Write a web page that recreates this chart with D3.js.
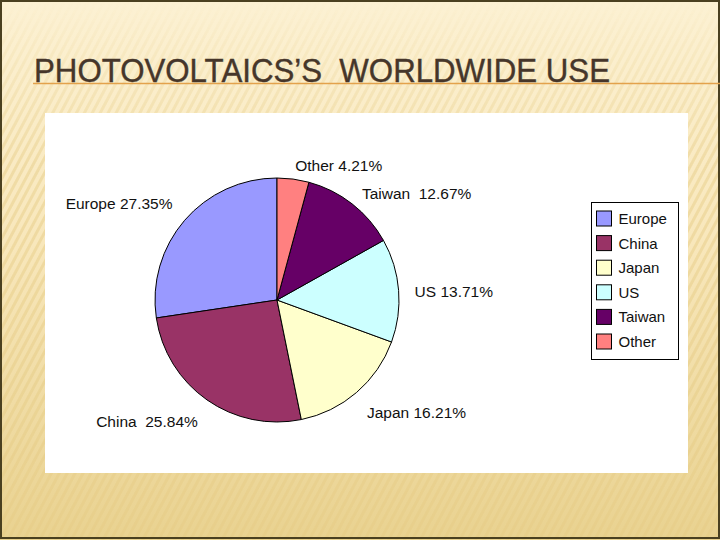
<!DOCTYPE html>
<html>
<head>
<meta charset="utf-8">
<script src="https://cdn.jsdelivr.net/npm/d3@7"></script>
<style>
  html, body { margin: 0; padding: 0; background: #fff; }
  svg { display: block; }
  text { white-space: pre; }
</style>
</head>
<body>
<svg id="chart" width="720" height="540"></svg>
<script>
// ---- data ----
const categories = ["Europe", "China", "Japan", "US", "Taiwan", "Other"];
const shares = [27.35, 25.84, 16.21, 13.71, 12.67, 4.21];
const labelTexts = ["Europe 27.35%", "China  25.84%", "Japan 16.21%", "US 13.71%", "Taiwan  12.67%", "Other 4.21%"];
const colors = ["#9999ff", "#993366", "#ffffcc", "#ccffff", "#660066", "#ff8080"];
const title = "PHOTOVOLTAICS\u2019S  WORLDWIDE USE";

const W = 720, H = 540;
const svg = d3.select("#chart");
const defs = svg.append("defs");

// background gradient
const bg = defs.append("linearGradient").attr("id", "bgGrad")
  .attr("x1", 0).attr("y1", 0).attr("x2", 0).attr("y2", 1);
bg.append("stop").attr("offset", "0").attr("stop-color", "#fcf1d3");
bg.append("stop").attr("offset", "0.45").attr("stop-color", "#f8e7bb");
bg.append("stop").attr("offset", "1").attr("stop-color", "#e9d290");

// stripe pattern
const pat = defs.append("pattern").attr("id", "stripes")
  .attr("patternUnits", "userSpaceOnUse").attr("width", 7).attr("height", 7)
  .attr("patternTransform", "rotate(28)");
pat.append("rect").attr("x", 0).attr("y", 0).attr("width", 3).attr("height", 7)
  .attr("fill", "#e6cc86");

const maskGrad = defs.append("linearGradient").attr("id", "maskGrad")
  .attr("x1", 0).attr("y1", 0).attr("x2", 0).attr("y2", 1);
maskGrad.append("stop").attr("offset", "0").attr("stop-color", "#000");
maskGrad.append("stop").attr("offset", "0.08").attr("stop-color", "#333");
maskGrad.append("stop").attr("offset", "0.3").attr("stop-color", "#aaa");
maskGrad.append("stop").attr("offset", "1").attr("stop-color", "#bbb");
defs.append("mask").attr("id", "stripeMask")
  .append("rect").attr("width", W).attr("height", H).attr("fill", "url(#maskGrad)");

svg.append("rect").attr("width", W).attr("height", H).attr("fill", "url(#bgGrad)");
svg.append("rect").attr("width", W).attr("height", H).attr("fill", "url(#stripes)")
  .attr("mask", "url(#stripeMask)").attr("opacity", 0.7);
svg.append("rect").attr("x", 1).attr("y", 1).attr("width", W - 2).attr("height", H - 3)
  .attr("fill", "none").attr("stroke", "#4a4020").attr("stroke-width", 2);

// title
svg.append("line").attr("x1", 33).attr("x2", W).attr("y1", 83.5).attr("y2", 83.5)
  .attr("stroke", "#e3a24c").attr("stroke-width", 1.5);
svg.append("text").attr("x", 34).attr("y", 82)
  .attr("font-family", "'Liberation Sans Narrow', 'Liberation Sans', Arial, sans-serif")
  .attr("font-size", 33).attr("font-weight", "normal").attr("fill", "#46362a")
  .attr("stroke", "#46362a").attr("stroke-width", 0.4)
  .attr("textLength", 576).attr("lengthAdjust", "spacingAndGlyphs")
  .text(title);

// white panel
svg.append("rect").attr("x", 45).attr("y", 113).attr("width", 643).attr("height", 360)
  .attr("fill", "#ffffff");

// pie
const cx = 277, cy = 300, R = 122;
const pie = d3.pie().sort(null).value(d => d).startAngle(0).endAngle(-2 * Math.PI);
const arcs = pie(shares);
const arc = d3.arc().innerRadius(0).outerRadius(R);
const g = svg.append("g").attr("transform", `translate(${cx},${cy})`);
g.selectAll("path.slice").data(arcs).join("path")
  .attr("class", "slice")
  .attr("d", arc)
  .attr("fill", (d, i) => colors[i])
  .attr("stroke", "#000").attr("stroke-width", 1);

// labels
const labelR = 138;
const labelArc = d3.arc().innerRadius(labelR).outerRadius(labelR);
g.selectAll("text.lbl").data(arcs).join("text")
  .attr("class", "lbl")
  .each(function(d, i) {
    const [px, py] = labelArc.centroid(d);
    const a = (d.startAngle + d.endAngle) / 2;
    const dx = Math.sin(a), dy = -Math.cos(a);
    const yOff = (dy > 0 || dx < 0) ? 10 * dy : 2;
    d3.select(this)
      .attr("x", px).attr("y", py + yOff)
      .attr("text-anchor", dx < 0 ? "end" : "start")
      .attr("dominant-baseline", "central");
  })
  .attr("font-family", "'Liberation Sans', Arial, sans-serif")
  .attr("font-size", 15.5).attr("fill", "#111")
  .text((d, i) => labelTexts[i]);

// legend
const lx = 591, ly = 202, lw = 87, lh = 157;
svg.append("rect").attr("x", lx + 0.5).attr("y", ly + 0.5).attr("width", lw).attr("height", lh)
  .attr("fill", "#fff").attr("stroke", "#000").attr("stroke-width", 1);
const ys = d3.scalePoint().domain(categories).range([218.5, 341.5]);
const lg = svg.append("g");
lg.selectAll("rect.sw").data(categories).join("rect")
  .attr("class", "sw")
  .attr("x", 596.5).attr("y", d => ys(d) - 7.5).attr("width", 15).attr("height", 15)
  .attr("fill", (d, i) => colors[i]).attr("stroke", "#000").attr("stroke-width", 1);
lg.selectAll("text").data(categories).join("text")
  .attr("x", 618.5).attr("y", d => ys(d))
  .attr("dominant-baseline", "central")
  .attr("font-family", "'Liberation Sans', Arial, sans-serif")
  .attr("font-size", 15).attr("fill", "#111")
  .text(d => d);
</script>
</body>
</html>
